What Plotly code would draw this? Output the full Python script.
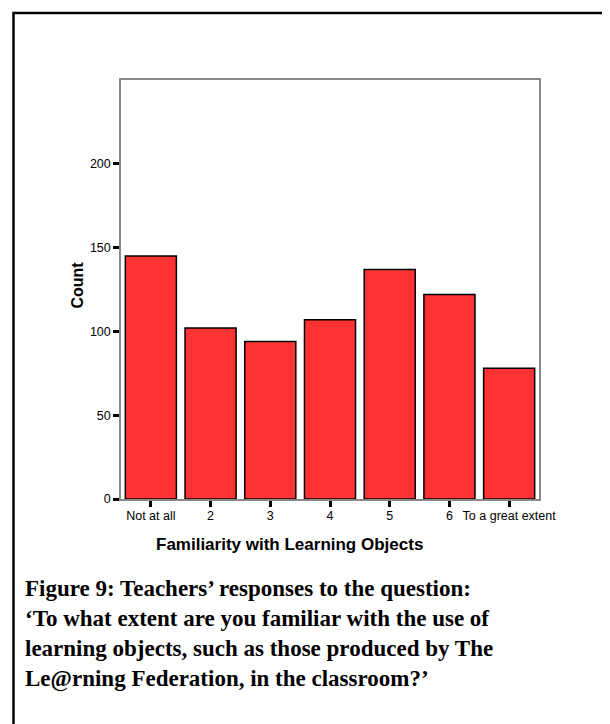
import plotly.graph_objects as go

categories = ["Not at all", "2", "3", "4", "5", "6", "To a great extent"]
counts = [145, 102, 94, 107, 137, 122, 78]
y_ticks = [0, 50, 100, 150, 200]

x_title = "Familiarity with Learning Objects"
y_title = "Count"
caption = (
    "Figure 9: Teachers\u2019 responses to the question:<br>"
    "\u2018To what extent are you familiar with the use of<br>"
    "learning objects, such as those produced by The<br>"
    "Le@rning Federation, in the classroom?\u2019"
)

# plot area in pixels: x 113..531, y 72..491
L, R, T, B = 113, 79, 72, 233
W, H = 610, 724
pw, ph = W - L - R, H - T - B


def px_x(p):
    return (p - L) / pw


def px_y(p):
    return (H - B - p) / ph


fig = go.Figure(
    go.Bar(
        x=categories,
        y=counts,
        marker=dict(color="#FF3333", line=dict(color="black", width=1.5)),
    )
)

fig.update_layout(
    width=W,
    height=H,
    margin=dict(l=L, r=R, t=T, b=B),
    paper_bgcolor="white",
    plot_bgcolor="white",
    bargap=0.145,
    showlegend=False,
    font=dict(family="Arial, Liberation Sans", color="black", size=12),
)

fig.update_xaxes(
    range=[-0.5, 6.5],
    showline=True,
    linecolor="#888888",
    linewidth=1.5,
    mirror=True,
    ticks="outside",
    ticklen=6,
    tickwidth=3,
    tickcolor="black",
    tickfont=dict(size=12.5),
    ticklabelstandoff=-2,
    showgrid=False,
)
fig.update_yaxes(
    range=[0, 250],
    tickvals=y_ticks,
    showline=True,
    linecolor="#888888",
    linewidth=1.5,
    mirror=True,
    ticks="outside",
    ticklen=6,
    tickwidth=2.5,
    tickcolor="black",
    tickfont=dict(size=12.5),
    showgrid=False,
    zeroline=False,
)

# outer frame (left and top edges only)
x0, y0, x1, y1 = px_x(5.5), px_y(H), px_x(W), px_y(5)
fig.add_shape(
    type="path",
    xref="paper",
    yref="paper",
    path=f"M {x0} {y0} L {x0} {y1} L {x1} {y1}",
    line=dict(color="black", width=2.5),
)

fig.add_annotation(
    text=f"<b>{y_title}</b>",
    xref="paper", yref="paper",
    x=px_x(58), y=px_y(277),
    textangle=-90,
    showarrow=False,
    font=dict(size=16),
)
fig.add_annotation(
    text=f"<b>{x_title}</b>",
    xref="paper", yref="paper",
    x=px_x(281), y=px_y(548),
    showarrow=False,
    font=dict(size=17),
)
fig.add_annotation(
    text=f"<b>{caption}</b>",
    xref="paper", yref="paper",
    x=px_x(15), y=px_y(626),
    xanchor="left", yanchor="middle",
    align="left",
    showarrow=False,
    font=dict(family="Liberation Serif, Times New Roman", size=23),
)

fig.write_html("out.html")
